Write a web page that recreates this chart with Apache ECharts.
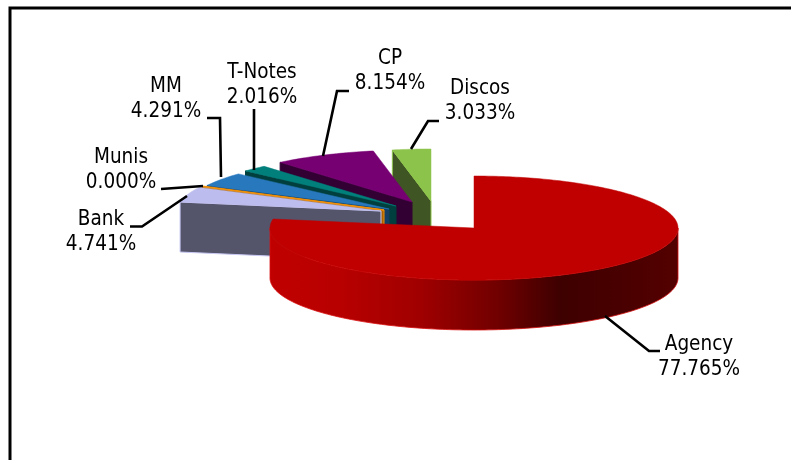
<!DOCTYPE html>
<html>
<head>
<meta charset="utf-8">
<style>html,body{margin:0;padding:0;background:#fff}#c{width:791px;height:460px}</style>
<script src="https://cdn.jsdelivr.net/npm/echarts@6/dist/echarts.min.js"></script>
</head>
<body>
<div id="c"></div>
<script>
const categories = ['Agency', 'Bank', 'Munis', 'MM', 'T-Notes', 'CP', 'Discos'];
const shares = [77.765, 4.741, 0.000, 4.291, 2.016, 8.154, 3.033];

// Appearance and layout
const topColors  = ['#C00000', '#BCBCEE', '#F0900A', '#2878BE', '#007F7B', '#760072', '#8CC34B'];
const sideColors = ['#C00000', '#54546B', '#A86000', '#123F63', '#003F3D', '#330033', '#3F5523'];
const sideEdges  = ['#D81010', '#C8C8F4', '#F0900A', '#123F63', '#003F3D', '#330033', '#8CC34B'];
const offsetX = [0, -93, -90, -85, -78, -62, -43];
const offsetY = [0, -17, -18, -19, -22, -26, -27];
const labelX = [699, 101, 121, 166, 262, 390, 480];
const labelY = [357, 232, 170, 99, 85, 71, 101];
const leaders = [
  [[605, 316], [649, 351], [660, 351]],
  [[187, 196], [142, 226.5], [130, 226.5]],
  [[203, 186], [161, 189]],
  [[221, 177], [220, 118], [207, 118]],
  [[254, 170], [254, 109]],
  [[323, 156], [337, 91], [349, 91]],
  [[411, 149], [428, 121], [439, 121]]
];
const CX = 474, CY = 228, RX = 204, RY = 52, DEPTH = 50;

const total = shares.reduce((a, b) => a + b, 0);
const startFrac = [];
shares.reduce((acc, v, i) => { startFrac[i] = acc / total; return acc + v; }, 0);

function rimPoint(cx, cy, frac, dy) {
  const a = frac * Math.PI * 2;
  return [cx + RX * Math.sin(a), cy - RY * Math.cos(a) + (dy || 0)];
}
function arc(cx, cy, f0, f1, dy) {
  const n = Math.max(1, Math.ceil((f1 - f0) * 360));
  const pts = [];
  for (let k = 0; k <= n; k++) pts.push(rimPoint(cx, cy, f0 + (f1 - f0) * k / n, dy));
  return pts;
}
const wallGradient = {
  type: 'linear', x: 0, y: 0, x2: 1, y2: 0,
  colorStops: [
    { offset: 0, color: '#C00000' },
    { offset: 0.17, color: '#B80000' },
    { offset: 0.37, color: '#A00000' },
    { offset: 0.56, color: '#700000' },
    { offset: 0.71, color: '#3E0000' },
    { offset: 1, color: '#540000' }
  ]
};

function renderSlice(params, api) {
  const i = api.value(0);
  const f0 = startFrac[i];
  const f1 = f0 + api.value(1) / total;
  const cx = CX + offsetX[i], cy = CY + offsetY[i];
  const children = [];
  const topPts = [[cx, cy]].concat(arc(cx, cy, f0, f1));
  if (i === 0) {
    // outer wall of the large slice, visible on the front half
    const upper = arc(cx, cy, 0.25, 0.75);
    const lower = arc(cx, cy, 0.25, 0.75, DEPTH).reverse();
    children.push({
      type: 'polygon', shape: { points: upper.concat(lower) },
      style: { fill: wallGradient, stroke: sideEdges[i], lineWidth: 0.8 }
    });
  } else {
    // radial cut face at the slice's start angle
    const rim = rimPoint(cx, cy, f0);
    children.push({
      type: 'polygon',
      shape: { points: [rim, [cx, cy], [cx, cy + DEPTH], [rim[0], rim[1] + DEPTH]] },
      style: { fill: sideColors[i], stroke: sideEdges[i], lineWidth: 1 }
    });
  }
  children.push({
    type: 'polygon', shape: { points: topPts },
    style: { fill: topColors[i], stroke: topColors[i], lineWidth: i === 2 ? 1.6 : 0.5 }
  });
  return { type: 'group', children };
}

function renderLabel(params, api) {
  const i = api.value(0);
  return {
    type: 'group',
    children: [
      {
        type: 'polyline', shape: { points: leaders[i] },
        style: { fill: 'none', stroke: '#000', lineWidth: 2.6 }
      },
      {
        type: 'text', x: labelX[i], y: labelY[i],
        style: {
          text: categories[i] + '\n' + api.value(1).toFixed(3) + '%',
          fill: '#000', font: '20.5px "DejaVu Sans Condensed", "DejaVu Sans"', lineHeight: 25,
          align: 'center', verticalAlign: 'middle'
        }
      }
    ]
  };
}

// back-to-front paint order: last category first, largest slice on top
const paintOrder = categories.map((_, i) => i).reverse();
const chart = echarts.init(document.getElementById('c'), null, { renderer: 'canvas' });
chart.setOption({
  animation: false,
  backgroundColor: '#fff',
  graphic: [{
    type: 'polyline', z: 0,
    shape: { points: [[10, 470], [10, 8], [800, 8]] },
    style: { fill: 'none', stroke: '#000', lineWidth: 3 }
  }],
  series: [
    {
      type: 'custom', coordinateSystem: 'none', z: 2, silent: true,
      data: paintOrder.map(i => ({ name: categories[i], value: [i, shares[i]] })),
      renderItem: renderSlice
    },
    {
      type: 'custom', coordinateSystem: 'none', z: 3, silent: true,
      data: categories.map((c, i) => ({ name: c, value: [i, shares[i]] })),
      renderItem: renderLabel
    }
  ]
});
</script>
</body>
</html>
